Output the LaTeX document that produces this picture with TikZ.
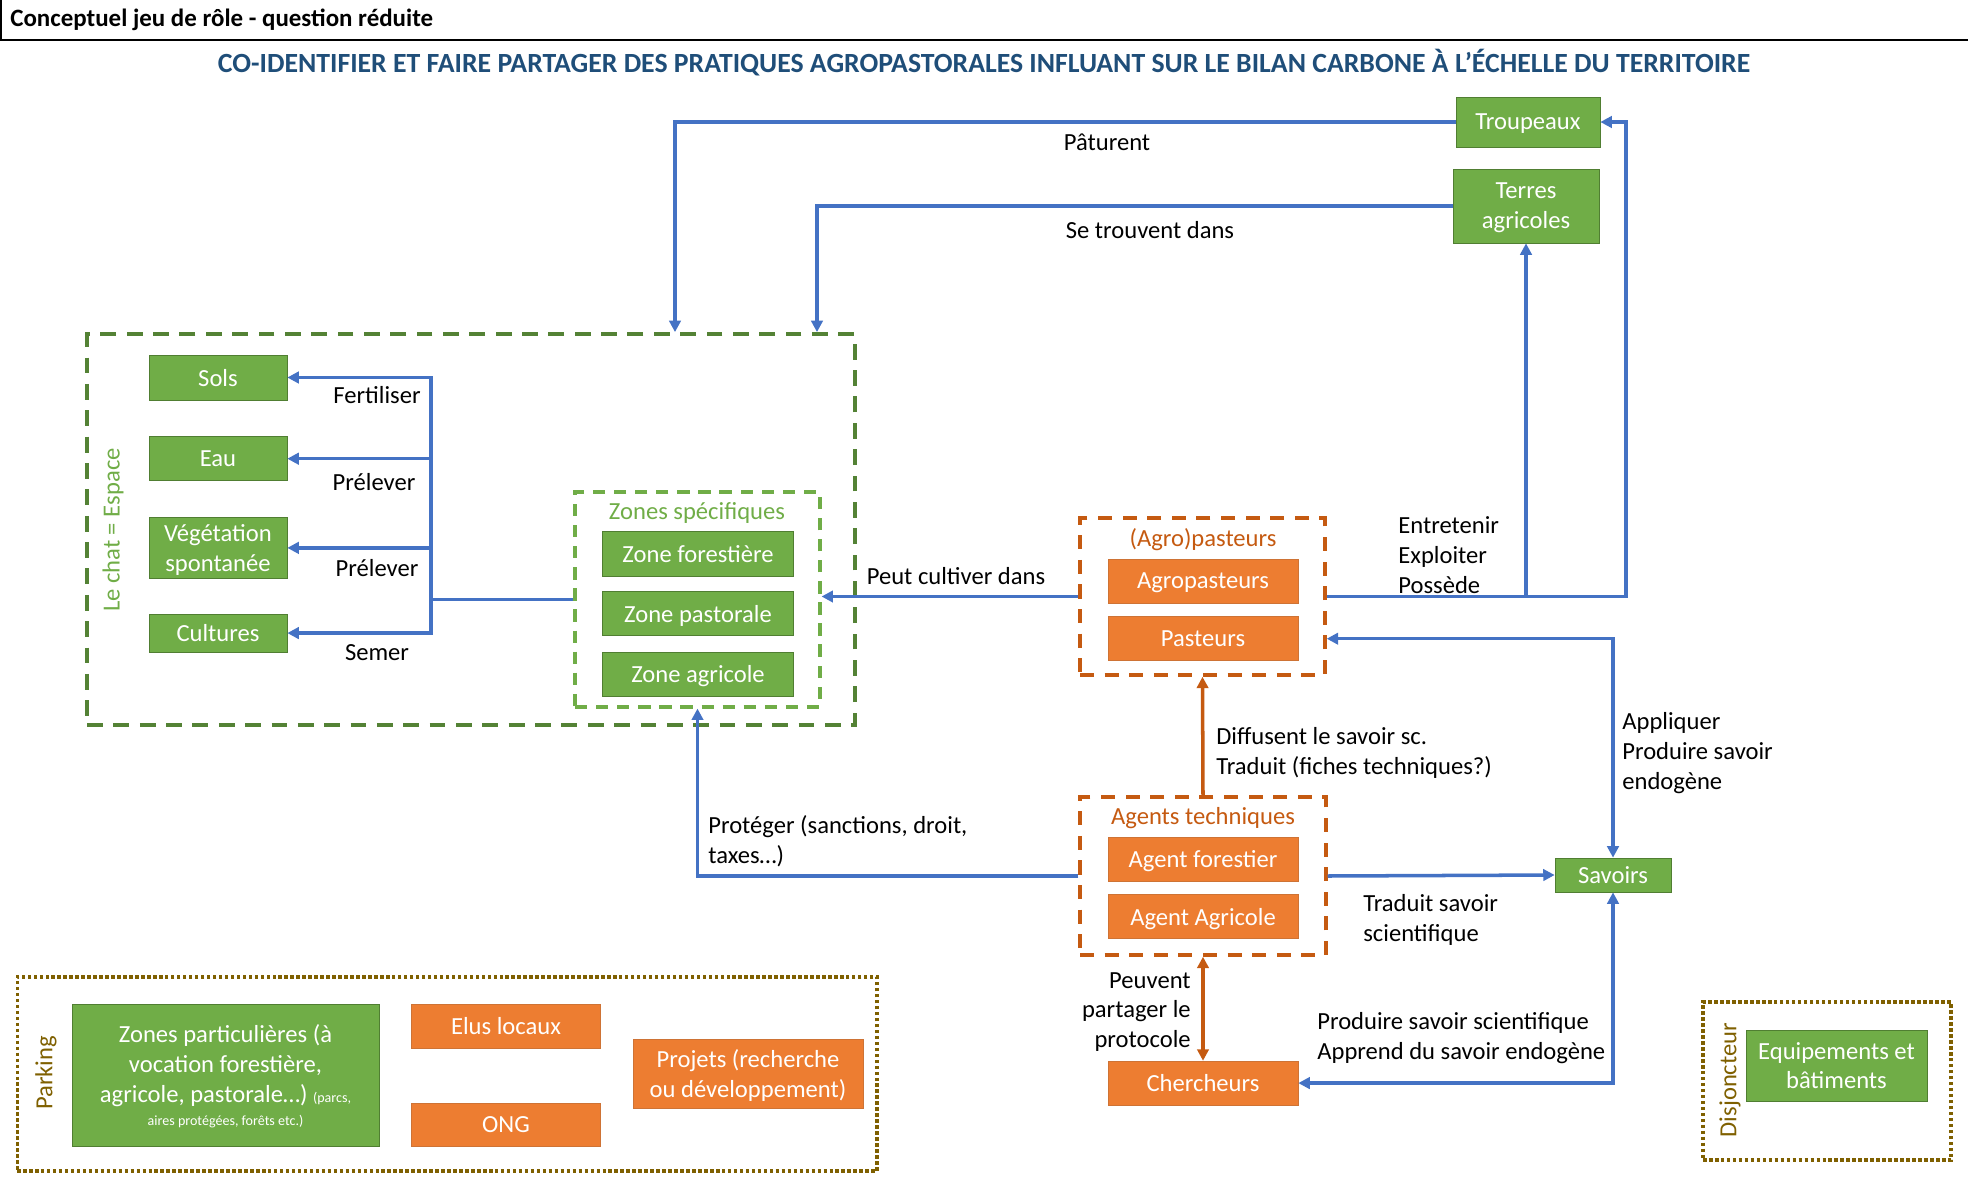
\documentclass[tikz,border=0pt]{standalone}
\usepackage{fontspec}
\setmainfont{Carlito}
\usepackage{xcolor}
\usetikzlibrary{arrows.meta, positioning}
\definecolor{vert}{HTML}{70AD47}
\definecolor{vertfonce}{HTML}{548235}
\definecolor{bordvert}{HTML}{507E32}
\definecolor{orangeclair}{HTML}{ED7D31}
\definecolor{orangefonce}{HTML}{C55A11}
\definecolor{bleu}{HTML}{4472C4}
\definecolor{titrebleu}{HTML}{1F4E79}
\definecolor{brun}{HTML}{7F6000}

\begin{document}
\begin{tikzpicture}[x=0.02cm, y=0.02cm,
  gbox/.style={rectangle, draw=bordvert, fill=vert, text=white, align=center, inner sep=1pt, text depth=0pt, font=\fontsize{14}{17}\selectfont},
  obox/.style={rectangle, draw=orangefonce!85, fill=orangeclair, text=white, align=center, inner sep=1pt, text depth=0pt, minimum width=3.8cm, minimum height=0.88cm, font=\fontsize{14}{17}\selectfont},
  lbl/.style={inner sep=0pt, align=left, font=\fontsize{14}{17}\selectfont},
  titre/.style={inner sep=0pt, font=\fontsize{14}{17}\selectfont},
  cadrevert/.style={rectangle, draw=vertfonce, line width=2.2pt, dash pattern=on 9pt off 6pt},
  cadrezone/.style={rectangle, draw=vert, line width=1.8pt, dash pattern=on 7pt off 5pt},
  cadreorange/.style={rectangle, draw=orangefonce, line width=2pt, dash pattern=on 8pt off 6pt},
  cadrebrun/.style={rectangle, draw=brun, line width=1.8pt, dash pattern=on 2pt off 1.4pt},
  fleche/.style={-{Triangle[length=6.5pt,width=6.5pt]}, draw=bleu, line width=2pt},
  dfleche/.style={{Triangle[length=6.5pt,width=6.5pt]}-{Triangle[length=6.5pt,width=6.5pt]}, draw=bleu, line width=2pt},
  ofleche/.style={-{Triangle[length=6.5pt,width=6.5pt]}, draw=orangefonce, line width=2pt},
  dofleche/.style={{Triangle[length=6.5pt,width=6.5pt]}-{Triangle[length=6.5pt,width=6.5pt]}, draw=orangefonce, line width=2pt}]
  \useasboundingbox (0,0) rectangle (1968,-1180);
  % En-tete
  \node[anchor=west, inner sep=0pt, font=\bfseries\fontsize{14.2}{16}\selectfont] (entete) at (10,-20) {Conceptuel jeu de rôle - question réduite};
  \draw[line width=1pt] (1,0) |- (1968,-40);
  \node[inner sep=0pt, text=titrebleu, font=\bfseries\fontsize{15.8}{18}\selectfont] (titre) at (984,-63) {CO-IDENTIFIER ET FAIRE PARTAGER DES PRATIQUES AGROPASTORALES INFLUANT SUR LE BILAN CARBONE À L’ÉCHELLE DU TERRITOIRE};
  % Troupeaux et terres
  \node[gbox, minimum width=2.88cm, minimum height=1cm] (troupeaux) at (1528,-122) {Troupeaux};
  \node[gbox, minimum width=2.92cm, minimum height=1.48cm] (terres) at (1526,-206) {Terres\\agricoles};
  % Espace
  \node[cadrevert, minimum width=15.36cm, minimum height=7.82cm] (espace) at (471,-529.5) {};
  \node[titre, rotate=90, text=vert] (espaceTitre) at (113,-530) {Le chat = Espace};
  \node[gbox, minimum width=2.76cm, minimum height=0.9cm] (sols) at (218,-377.5) {Sols};
  \node[gbox, minimum width=2.76cm, minimum height=0.88cm, below=0.72cm of sols] (eau) {Eau};
  \node[gbox, minimum width=2.76cm, minimum height=1.22cm, below=0.72cm of eau] (vege) {Végétation\\spontanée};
  \node[gbox, minimum width=2.76cm, minimum height=0.76cm, below=0.7cm of vege] (cultures) {Cultures};
  % Zones specifiques
  \node[cadrezone, minimum width=4.9cm, minimum height=4.3cm] (zones) at (697.5,-599.5) {};
  \node[titre, text=vert] (zonesTitre) at (697,-513) {Zones spécifiques};
  \node[gbox, minimum width=3.82cm, minimum height=0.9cm] (zforet) at (698,-553.5) {Zone forestière};
  \node[gbox, minimum width=3.82cm, minimum height=0.88cm, below=0.3cm of zforet] (zpasto) {Zone pastorale};
  \node[gbox, minimum width=3.82cm, minimum height=0.88cm, below=0.32cm of zpasto] (zagri) {Zone agricole};
  % (Agro)pasteurs
  \node[cadreorange, minimum width=4.9cm, minimum height=3.14cm] (agro) at (1202.5,-596.5) {};
  \node[titre, text=orangefonce] (agroTitre) at (1203,-540) {(Agro)pasteurs};
  \node[obox] (agropast) at (1203,-581) {Agropasteurs};
  \node[obox, below=0.26cm of agropast] (pasteurs) {Pasteurs};
  % Agents techniques
  \node[cadreorange, minimum width=4.92cm, minimum height=3.16cm] (agents) at (1203,-876) {};
  \node[titre, text=orangefonce] (agentsTitre) at (1203,-818) {Agents techniques};
  \node[obox] (aforet) at (1203,-859) {Agent forestier};
  \node[obox, below=0.26cm of aforet] (aagri) {Agent Agricole};
  \node[obox, below=2.08cm of agents] (chercheurs) {Chercheurs};
  \node[gbox, minimum width=2.32cm, minimum height=0.68cm] (savoirs) at (1613,-875) {Savoirs};
  % Parking
  \node[cadrebrun, minimum width=17.2cm, minimum height=3.88cm] (parking) at (447,-1074) {};
  \node[titre, rotate=90, text=brun] (parkingTitre) at (46,-1073) {Parking};
  \node[gbox, minimum width=6.14cm, minimum height=2.84cm] (zpart) at (225.5,-1075) {Zones particulières (à\\vocation forestière,\\agricole, pastorale…) {\fontsize{8}{9}\selectfont (parcs,}\\[-4pt]{\fontsize{8}{9}\selectfont aires protégées, forêts etc.)}};
  \node[obox, minimum width=3.78cm] (elus) at (506,-1026) {Elus locaux};
  \node[obox, minimum width=3.78cm, minimum height=0.86cm] (ong) at (506,-1124.5) {ONG};
  \node[obox, minimum width=4.6cm, minimum height=1.38cm] (projets) at (748,-1073.5) {Projets (recherche\\ou développement)};
  % Disjoncteur
  \node[cadrebrun, minimum width=4.96cm, minimum height=3.16cm] (disj) at (1827,-1081) {};
  \node[titre, rotate=90, text=brun] (disjTitre) at (1730,-1080) {Disjoncteur};
  \node[gbox, minimum width=3.62cm, minimum height=1.42cm] (equip) at (1836.5,-1065.5) {Equipements et\\bâtiments};
  % Fleches
  \coordinate (paturentIn) at (675,0 |- espace.north);
  \coordinate (trouventIn) at (817,0 |- espace.north);
  \draw[fleche] (troupeaux.west) -| (paturentIn);
  \draw[fleche] (terres.west) -| (trouventIn);
  \coordinate (fourche) at (431,0 |- zones.west);
  \draw[fleche] (zones.west) -- (fourche) |- (sols.east);
  \draw[fleche] (fourche) |- (eau.east);
  \draw[fleche] (fourche) |- (vege.east);
  \draw[fleche] (fourche) |- (cultures.east);
  \draw[fleche] (agro.west) -- (agro.west -| zones.east);
  \coordinate (agroDroite) at (1626,0 |- agro.east);
  \coordinate (agroTerres) at (terres.south |- agro.east);
  \draw[fleche] (agro.east) -- (agroDroite) |- (troupeaux.east);
  \draw[fleche] (agroTerres) -- (terres.south);
  \draw[dfleche] (savoirs.north) |- (agro.east |- pasteurs.center);
  \draw[fleche] (agents.east) -- (savoirs.west);
  \draw[fleche] (agents.west) -| (zones.south);
  \draw[ofleche] (agents.north) -- (agro.south);
  \draw[dofleche] (agents.south) -- (chercheurs.north);
  \draw[dfleche] (chercheurs.east) -| (savoirs.south);
  % Etiquettes
  \node[lbl] (lPaturent) at (1107,-142) {Pâturent};
  \node[lbl] (lTrouvent) at (1150,-230) {Se trouvent dans};
  \node[lbl] (lFertiliser) at (377,-395) {Fertiliser};
  \node[lbl] (lPrelever) at (374,-482) {Prélever};
  \node[lbl] (lPrelever2) at (377,-568) {Prélever};
  \node[lbl] (lSemer) at (377,-653) {Semer};
  \node[lbl] (lCultiver) at (956,-576) {Peut cultiver dans};
  \node[lbl, anchor=west] (lEntretenir) at (1398,-555) {Entretenir\\Exploiter\\Possède};
  \node[lbl, anchor=west] (lAppliquer) at (1622,-753) {Appliquer\\Produire savoir\\endogène};
  \node[lbl, anchor=west] (lDiffusent) at (1216,-753) {Diffusent le savoir sc.\\Traduit (fiches techniques?)};
  \node[lbl, anchor=west] (lTraduit) at (1363,-920) {Traduit savoir\\scientifique};
  \node[lbl, anchor=west] (lProteger) at (708,-841) {Protéger (sanctions, droit,\\taxes…)};
  \node[lbl, anchor=east, align=right] (lPeuvent) at (1191,-1012) {Peuvent\\partager le\\protocole};
  \node[lbl, anchor=west] (lProduire) at (1317,-1038) {Produire savoir scientifique\\Apprend du savoir endogène};
\end{tikzpicture}
\end{document}
